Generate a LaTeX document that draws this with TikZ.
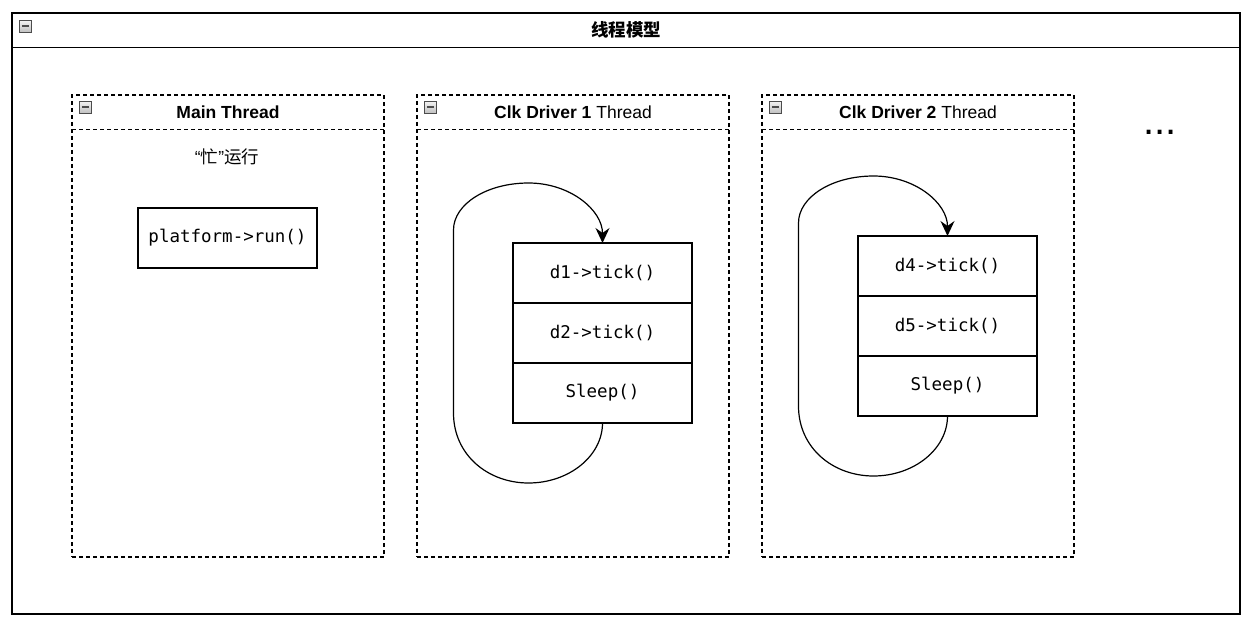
\documentclass[tikz,border=0pt]{standalone}
\usepackage{fontspec}
\setmainfont{Liberation Sans}
\setmonofont{DejaVu Sans Mono}
\newfontfamily\cjk{Noto Sans CJK SC}
\usepackage{tikz}
\usetikzlibrary{arrows.meta,positioning}

\tikzset{
  lane/.style={draw,rectangle,dash pattern=on 4pt off 3pt,minimum width=312pt,minimum height=462pt,inner sep=0pt,outer sep=0pt},
  lanetitle/.style={minimum height=33pt,inner sep=0pt},
  laneline/.style={dash pattern=on 4pt off 3pt},
  icon/.style={draw=gray!60!black,line width=0.6pt,top color=gray!10,bottom color=gray!50,minimum size=12pt,inner sep=0pt,
    path picture={\draw[line width=1.8pt] ([xshift=2.5pt]path picture bounding box.west) -- ([xshift=-2.5pt]path picture bounding box.east);}},
  call/.style={draw,rectangle,minimum width=179pt,minimum height=60pt,inner sep=0pt,outer sep=0pt,font=\ttfamily\fontsize{17.5}{21}\selectfont},
  backedge/.style={-{Stealth[length=15pt,width=14pt,inset=5pt]}}
}

\begin{document}
\begin{tikzpicture}[x=1pt,y=-1pt,line width=1.2pt,font=\fontsize{17.5}{21}\selectfont]
    \useasboundingbox (0,0) rectangle (1251,626);
    \node[draw,rectangle,minimum width=1228pt,minimum height=601pt,inner sep=0pt,outer sep=0pt] (pool) at (626,313.5) {};
    \node[minimum height=33pt,inner sep=0pt] (pooltitle) [below=0pt of pool.north] {\cjk\bfseries 线程模型};
    \draw (pooltitle.south -| pool.west) -- (pooltitle.south -| pool.east);
    \node[icon] (poolicon) [below right=7pt and 7pt of pool.north west] {};

    \node[lane] (mainlane) at (228,326) {};
    \node[lane] (clk1lane) [right=33pt of mainlane] {};
    \node[lane] (clk2lane) [right=33pt of clk1lane] {};

    \node[lanetitle] (maintitle) [below=0pt of mainlane.north] {\textbf{Main Thread}};
    \node[lanetitle] (clk1title) [below=0pt of clk1lane.north] {\textbf{Clk Driver 1} Thread};
    \node[lanetitle] (clk2title) [below=0pt of clk2lane.north] {\textbf{Clk Driver 2} Thread};
    \draw[laneline] (maintitle.south -| mainlane.west) -- (maintitle.south -| mainlane.east);
    \draw[laneline] (clk1title.south -| clk1lane.west) -- (clk1title.south -| clk1lane.east);
    \draw[laneline] (clk2title.south -| clk2lane.west) -- (clk2title.south -| clk2lane.east);
    \node[icon] (mainicon) [below right=6pt and 7pt of mainlane.north west] {};
    \node[icon] (clk1icon) [below right=6pt and 7pt of clk1lane.north west] {};
    \node[icon] (clk2icon) [below right=6pt and 7pt of clk2lane.north west] {};

    \node (busy) at (227,157) {“{\cjk 忙}”{\cjk 运行}};
    \node[call] (platform) at (227.5,238) {platform->run()};

    \node[call] (tick1) at (602.5,273) {d1->tick()};
    \node[call] (tick2) [below=0pt of tick1] {d2->tick()};
    \node[call] (sleep1) [below=0pt of tick2] {Sleep()};

    \node[call] (tick4) at (947.5,266) {d4->tick()};
    \node[call] (tick5) [below=0pt of tick4] {d5->tick()};
    \node[call] (sleep2) [below=0pt of tick5] {Sleep()};

    \node[font=\fontsize{40}{40}\selectfont,anchor=base] (more) at (1160,135) {...};

    \draw[backedge] (sleep1.south) .. controls (602.5,456) and (569,483) .. (528.5,483)
        .. controls (488,483) and (453.5,455) .. (453.5,413) -- (453.5,230)
        .. controls (453.5,204) and (487,183) .. (528.5,183)
        .. controls (570,183) and (602.5,210) .. (tick1.north);
    \draw[backedge] (sleep2.south) .. controls (947.5,449) and (914,476) .. (873.5,476)
        .. controls (833,476) and (798.5,448) .. (798.5,406) -- (798.5,223)
        .. controls (798.5,197) and (832,176) .. (873.5,176)
        .. controls (915,176) and (947.5,203) .. (tick4.north);
\end{tikzpicture}
\end{document}
